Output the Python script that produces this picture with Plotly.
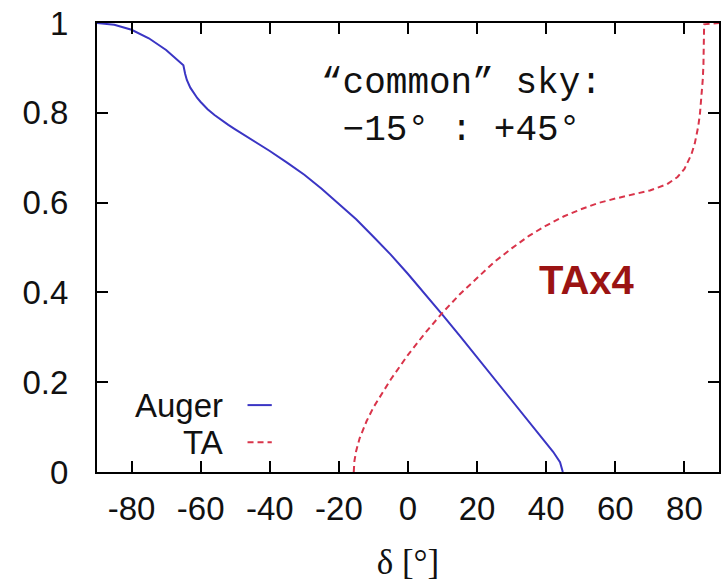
import plotly.graph_objects as go

# Relative exposure vs declination
auger_dec = [-90, -85, -80, -75, -70, -65, -64.5, -64, -63, -62, -61, -60, -58, -56, -55, -52,
             -50, -45, -40, -35, -30, -25, -20, -15, -10, -5, 0, 5, 10, 15, 20, 25, 30, 35,
             40, 42, 44, 44.8]
auger_exp = [1.0, 0.996, 0.985, 0.966, 0.940, 0.906, 0.887, 0.873, 0.856, 0.844, 0.833, 0.824,
             0.808, 0.795, 0.789, 0.773, 0.763, 0.739, 0.715, 0.689, 0.662, 0.631, 0.598,
             0.563, 0.524, 0.484, 0.441, 0.396, 0.350, 0.303, 0.255, 0.207, 0.159, 0.112,
             0.065, 0.045, 0.022, 0.0]

ta_dec = [-15.7, -15.5, -15, -14, -12, -10, -5, 0, 5, 10, 15, 20, 25, 30, 35, 40, 45, 50, 55,
          60, 65, 70, 75, 78, 80, 82, 83, 84, 84.5, 85, 85.3, 85.5, 85.6, 85.7, 90]
ta_exp = [0.0, 0.025, 0.047, 0.075, 0.113, 0.144, 0.206, 0.261, 0.310, 0.355, 0.396, 0.433,
          0.468, 0.498, 0.526, 0.549, 0.569, 0.585, 0.599, 0.609, 0.618, 0.627, 0.641, 0.657,
          0.675, 0.707, 0.732, 0.770, 0.799, 0.839, 0.874, 0.908, 0.935, 0.997, 1.0]

x_ticks = [-80, -60, -40, -20, 0, 20, 40, 60, 80]
x_tick_text = ["-80", "-60", "-40", "-20", "0", "20", "40", "60", "80"]
y_ticks = [0, 0.2, 0.4, 0.6, 0.8, 1]
y_tick_text = ["0", "0.2", "0.4", "0.6", "0.8", "1"]

AUGER_COLOR = "#3a35c4"
TA_COLOR = "#d9344a"

fig = go.Figure()
fig.add_trace(go.Scatter(x=auger_dec, y=auger_exp, mode="lines", name="Auger",
                         line=dict(color=AUGER_COLOR, width=2), showlegend=False))
fig.add_trace(go.Scatter(x=ta_dec, y=ta_exp, mode="lines", name="TA",
                         line=dict(color=TA_COLOR, width=2, dash="6px,4px"), showlegend=False))

sans = "Liberation Sans, Arial, sans-serif"
axis_common = dict(showline=True, linecolor="black", linewidth=2, mirror="allticks",
                   ticks="inside", ticklen=11, tickwidth=1.5, tickcolor="black",
                   showgrid=False, zeroline=False,
                   tickfont=dict(family=sans, size=33, color="#111"))

fig.update_xaxes(range=[-90, 90], tickvals=x_ticks, ticktext=x_tick_text, ticklabelstandoff=6,
                 title=dict(text="δ [°]", font=dict(family="Liberation Serif, serif", size=35,
                                                   color="#111"), standoff=24),
                 **axis_common)
fig.update_yaxes(range=[0, 1], tickvals=y_ticks, ticktext=y_tick_text, ticklabelstandoff=20,
                 **axis_common)

# manual gnuplot-style key (text right-aligned, sample line to the right)
fig.add_annotation(xref="paper", yref="paper", x=0.205, y=0.149, text="Auger",
                   showarrow=False, xanchor="right", yanchor="middle",
                   font=dict(family=sans, size=33, color="#111"))
fig.add_annotation(xref="paper", yref="paper", x=0.205, y=0.066, text="TA",
                   showarrow=False, xanchor="right", yanchor="middle",
                   font=dict(family=sans, size=33, color="#111"))
fig.add_shape(type="line", xref="paper", yref="paper", x0=0.242, x1=0.281, y0=0.149, y1=0.149,
              line=dict(color=AUGER_COLOR, width=2))
fig.add_shape(type="line", xref="paper", yref="paper", x0=0.242, x1=0.281, y0=0.066, y1=0.066,
              line=dict(color=TA_COLOR, width=2, dash="6px,4px"))

fig.add_annotation(xref="paper", yref="paper", x=0.5865, y=0.813,
                   text="“common” sky:<br>−15° : +45°", showarrow=False,
                   xanchor="center", yanchor="middle", align="center",
                   font=dict(family="Liberation Mono, Courier New, monospace", size=36, color="#111"))
fig.add_annotation(xref="paper", yref="paper", x=0.787, y=0.427, text="<b>TAx4</b>",
                   showarrow=False, xanchor="center", yanchor="middle",
                   font=dict(family=sans, size=40, color="#9b1313"))

fig.update_layout(width=724, height=582, margin=dict(l=97, r=3, t=23, b=110),
                  paper_bgcolor="white", plot_bgcolor="white")

fig.write_html("out.html")
